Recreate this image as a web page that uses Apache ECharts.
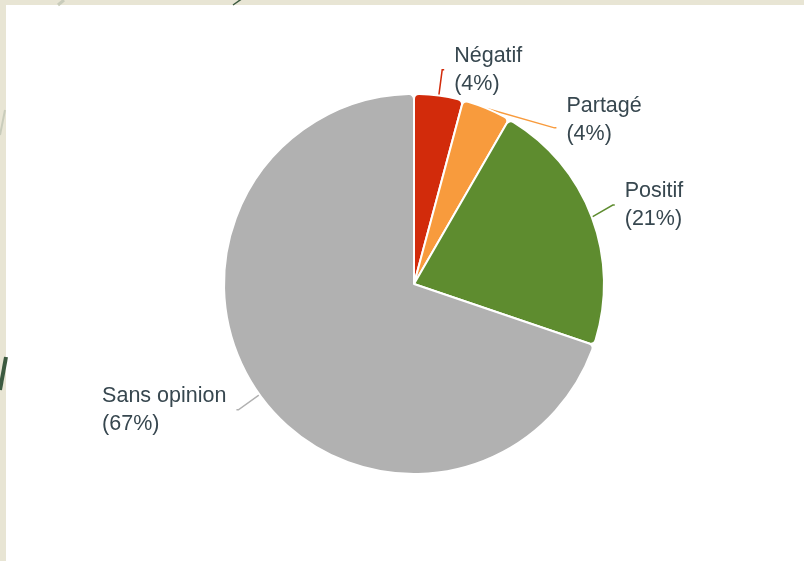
<!DOCTYPE html>
<html><head><meta charset="utf-8">
<script src="https://cdn.jsdelivr.net/npm/echarts@6/dist/echarts.min.js"></script>
<style>html,body{margin:0;padding:0;background:#e8e5d4;}#c{width:804px;height:561px;}</style>
</head><body><div id="c"></div>
<script>
const categories = ['Négatif', 'Partagé', 'Positif', 'Sans opinion'];
const values = [4, 4, 21, 67];
const colors = ['#d22b0b', '#f89b3d', '#5e8c2f', '#b1b1b1'];
const lineLengths = [26, 26, 34, 26];

const chart = echarts.init(document.getElementById('c'));
const txt = { fontFamily: 'Liberation Sans, Arial, sans-serif', fontSize: 21.5, lineHeight: 28, color: '#37474f', align: 'left' };
chart.setOption({
  backgroundColor: '#e8e5d4',
  graphic: [
    { type: 'rect', shape: { x: 6, y: 5, width: 800, height: 560 }, style: { fill: '#ffffff' }, z: -10 },
    { type: 'polyline', shape: { points: [[58, 5], [64, 0]] }, style: { stroke: '#c9ccbb', lineWidth: 3 }, z: -9 },
    { type: 'polyline', shape: { points: [[233, 5], [243, -2]] }, style: { stroke: '#3c5a40', lineWidth: 1.5 }, z: -9 },
    { type: 'polyline', shape: { points: [[0, 135], [5, 110]] }, style: { stroke: '#c9ccbb', lineWidth: 2 }, z: -9 },
    { type: 'polyline', shape: { points: [[0, 390], [6, 357]] }, style: { stroke: '#3c5a40', lineWidth: 4 }, z: -9 }
  ],
  series: [{
    type: 'pie',
    center: [414, 284],
    radius: 190,
    startAngle: 90,
    clockwise: true,
    avoidLabelOverlap: true,
    itemStyle: { borderColor: '#ffffff', borderWidth: 2, borderRadius: 5 },
    label: {
      show: true,
      position: 'outside',
      formatter: p => '{t|' + p.name + '}\n{t|(' + p.value + '%)}',
      rich: { t: txt },
      distanceToLabelLine: 10,
      fontFamily: 'Liberation Sans, Arial, sans-serif',
      fontSize: 21.5,
      lineHeight: 28,
      color: '#37474f'
    },
    labelLine: { show: true, length: 26, length2: 2, lineStyle: { width: 1.5 } },
    labelLayout: p => (p.dataIndex === 1 ? { dy: -8 } : {}),
    emphasis: { disabled: true },
    data: categories.map((n, i) => ({
      name: n, value: values[i],
      itemStyle: { color: colors[i] },
      labelLine: { length: lineLengths[i], lineStyle: { color: colors[i] } }
    }))
  }],
  animation: false
});
</script></body></html>
